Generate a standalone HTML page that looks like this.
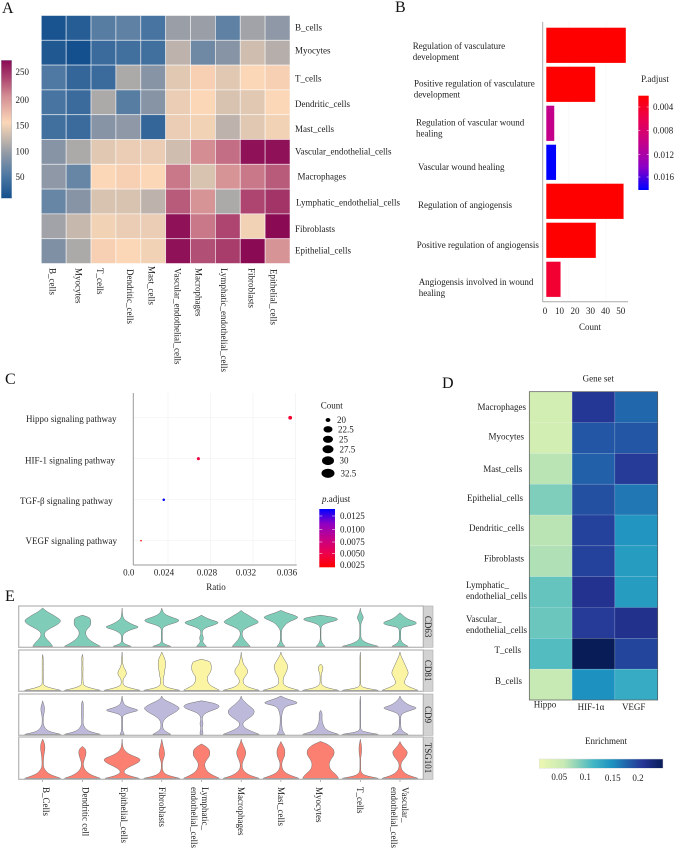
<!DOCTYPE html>
<html lang="en">
<head>
<meta charset="utf-8">
<title>Cell interaction and enrichment figure</title>
<style>
html,body{margin:0;padding:0;background:#fff;width:674px;height:851px;overflow:hidden}
svg{display:block}
text{font-family:"Liberation Serif",serif;font-size:9px;fill:#222;dominant-baseline:central}
.m{text-anchor:middle}
.e{text-anchor:end}
.letter{font-size:16px;dominant-baseline:auto;fill:#111}
</style>
</head>
<body>
<svg id="fig" xmlns="http://www.w3.org/2000/svg" width="674" height="851" viewBox="0 0 674 851">
<defs>
<linearGradient id="gradA" x1="0" y1="0" x2="0" y2="1">
<stop offset="0" stop-color="#8a0a54"/><stop offset=".13" stop-color="#ad4570"/><stop offset=".26" stop-color="#d38d93"/><stop offset=".45" stop-color="#fbd7b7"/><stop offset=".6" stop-color="#b5aeaa"/><stop offset=".68" stop-color="#8f98a6"/><stop offset=".83" stop-color="#4f79a3"/><stop offset="1" stop-color="#14508e"/>
</linearGradient>
<linearGradient id="gradB" x1="0" y1="0" x2="0" y2="1"><stop offset="0" stop-color="#ff0000"/><stop offset=".25" stop-color="#eb0050"/><stop offset=".5" stop-color="#c4008a"/><stop offset=".75" stop-color="#8e00c4"/><stop offset="1" stop-color="#0000ff"/></linearGradient>
<linearGradient id="gradC" x1="0" y1="0" x2="0" y2="1"><stop offset="0" stop-color="#0000ff"/><stop offset=".25" stop-color="#8e00c4"/><stop offset=".5" stop-color="#c4008a"/><stop offset=".75" stop-color="#eb0050"/><stop offset="1" stop-color="#ff0000"/></linearGradient>
<linearGradient id="gradD" x1="0" y1="0" x2="1" y2="0">
<stop offset="0" stop-color="#edf8b1"/><stop offset=".2" stop-color="#c7e9b4"/><stop offset=".33" stop-color="#7fcdbb"/><stop offset=".44" stop-color="#41b6c4"/><stop offset=".59" stop-color="#1d91c0"/><stop offset=".72" stop-color="#225ea8"/><stop offset=".84" stop-color="#253494"/><stop offset="1" stop-color="#081d58"/>
</linearGradient>
</defs>

<text class="letter" x="2" y="13">A</text>
<text class="letter" x="395" y="12">B</text>
<text class="letter" x="5" y="384">C</text>
<text class="letter" x="442" y="388">D</text>
<text class="letter" x="5" y="601">E</text>

<g id="panelA">
<rect x="1.3" y="60.3" width="10.4" height="138" fill="url(#gradA)" stroke="#9fb4c8" stroke-width=".4"/>
<text x="15.5" y="72">250</text>
<text x="15.5" y="100">200</text>
<text x="15.5" y="125.5">150</text>
<text x="15.5" y="151.5">100</text>
<text x="15.5" y="177">50</text>
<text x="295" y="27.5">B_cells</text>
<text x="295" y="50.5">Myocytes</text>
<text x="295" y="78.5">T_cells</text>
<text x="295" y="104">Dendritic_cells</text>
<text x="295" y="129">Mast_cells</text>
<text x="295" y="151.5">Vascular_endothelial_cells</text>
<text x="297.5" y="176.5">Macrophages</text>
<text x="296" y="202.5">Lymphatic_endothelial_cells</text>
<text x="295" y="229">Fibroblasts</text>
<text x="295" y="250.5">Epithelial_cells</text>
<text transform="translate(52.3,268) rotate(90)">B_cells</text>
<text transform="translate(78.3,268) rotate(90)">Myocytes</text>
<text transform="translate(100,268) rotate(90)">T_cells</text>
<text transform="translate(130,269) rotate(90)">Dendritic_cells</text>
<text transform="translate(151.7,266) rotate(90)">Mast_cells</text>
<text transform="translate(177.7,268) rotate(90)">Vascular_endothelial_cells</text>
<text transform="translate(198.3,268) rotate(90)">Macrophages</text>
<text transform="translate(224,268) rotate(90)">Lymphatic_endothelial_cells</text>
<text transform="translate(251.7,268) rotate(90)">Fibroblasts</text>
<text transform="translate(273.3,269) rotate(90)">Epithelial_cells</text>
</g>

<g id="panelB">
<line x1="569" y1="22" x2="569" y2="302" stroke="#f3f3f3" stroke-width=".6"/>
<line x1="606" y1="22" x2="606" y2="302" stroke="#f3f3f3" stroke-width=".6"/>
<line x1="542.7" y1="22" x2="542.7" y2="302" stroke="#aaa" stroke-width="1"/>
<line x1="542.7" y1="301.7" x2="628" y2="301.7" stroke="#aaa" stroke-width="1"/>
<text x="412.7" y="46">Regulation of vasculature</text>
<text x="412.7" y="57">development</text>
<text x="414" y="83.5">Positive regulation of vasculature</text>
<text x="413.7" y="94.5">development</text>
<text x="416" y="122.5">Regulation of vascular wound</text>
<text x="416" y="133.5">healing</text>
<text x="418" y="167">Vascular wound healing</text>
<text x="418" y="205">Regulation of angiogensis</text>
<text x="416.7" y="245">Positive regulation of angiogensis</text>
<text x="418.7" y="282">Angiogensis involved in wound</text>
<text x="418.7" y="293">healing</text>
<text class="m" x="545" y="311">0</text>
<text class="m" x="559.5" y="311">10</text>
<text class="m" x="575" y="311">20</text>
<text class="m" x="590.5" y="311">30</text>
<text class="m" x="605.5" y="311">40</text>
<text class="m" x="620.7" y="311">50</text>
<text class="m" x="590" y="327">Count</text>
<text class="m" x="655" y="79">P.adjust</text>
<rect x="638.3" y="95.7" width="10.4" height="94.3" fill="url(#gradB)"/>
<path d="M638.3 107h2M646.7 107h2M638.3 130.5h2M646.7 130.5h2M638.3 154.500h2M646.7 154.500h2M638.3 177h2M646.7 177h2" stroke="#fff" stroke-width=".6" fill="none"/>
<text x="653" y="107">0.004</text>
<text x="653" y="130.5">0.008</text>
<text x="653.7" y="155">0.012</text>
<text x="653.7" y="177">0.016</text>
</g>

<g id="panelC">
<line x1="168" y1="393" x2="168" y2="565" stroke="#efefef" stroke-width=".6"/>
<line x1="210.5" y1="393" x2="210.5" y2="565" stroke="#efefef" stroke-width=".6"/>
<line x1="253" y1="393" x2="253" y2="565" stroke="#efefef" stroke-width=".6"/>
<line x1="295.5" y1="393" x2="295.5" y2="565" stroke="#efefef" stroke-width=".6"/>
<line x1="133.3" y1="417.7" x2="296.7" y2="417.7" stroke="#f2f2f2" stroke-width=".6"/>
<line x1="133.3" y1="458.7" x2="296.7" y2="458.7" stroke="#f2f2f2" stroke-width=".6"/>
<line x1="133.3" y1="499.3" x2="296.7" y2="499.3" stroke="#f2f2f2" stroke-width=".6"/>
<line x1="133.3" y1="540.7" x2="296.7" y2="540.7" stroke="#f2f2f2" stroke-width=".6"/>
<line x1="133.3" y1="393" x2="133.3" y2="565" stroke="#999" stroke-width="1"/>
<line x1="133.3" y1="565" x2="296.7" y2="565" stroke="#999" stroke-width="1"/>
<text x="26" y="419">Hippo signaling pathway</text>
<text x="25" y="460.5">HIF-1 signaling pathway</text>
<text x="20" y="501">TGF-β signaling pathway</text>
<text x="25.5" y="541">VEGF signaling pathway</text>
<text class="m" x="128.7" y="572.7">0.0</text>
<text class="m" x="164" y="572.7">0.024</text>
<text class="m" x="207" y="572.7">0.028</text>
<text class="m" x="246" y="572.7">0.032</text>
<text class="m" x="287" y="572.7">0.036</text>
<text class="m" x="216" y="587">Ratio</text>
<text x="320.7" y="405.7">Count</text>
<ellipse cx="328" cy="420" rx="2.4" ry="2" fill="#000"/>
<ellipse cx="328" cy="429.3" rx="4.5" ry="3.2" fill="#000"/>
<ellipse cx="328" cy="439.3" rx="5" ry="3.6" fill="#000"/>
<ellipse cx="328" cy="449.3" rx="5.5" ry="4" fill="#000"/>
<ellipse cx="328" cy="460.7" rx="6" ry="4.4" fill="#000"/>
<ellipse cx="328" cy="473.3" rx="6.5" ry="4.6" fill="#000"/>
<text x="337" y="420">20</text>
<text x="338" y="429.3">22.5</text>
<text x="339" y="439.3">25</text>
<text x="339.5" y="449.3">27.5</text>
<text x="339.5" y="460.7">30</text>
<text x="340.5" y="473.3">32.5</text>
<text x="322" y="499"><tspan font-style="italic">p</tspan>.adjust</text>
<rect x="319.3" y="509" width="15.7" height="58.3" fill="url(#gradC)"/>
<path d="M319.3 516h3M332 516h3M319.3 529.500h3M332 529.500h3M319.3 542h3M332 542h3M319.3 553.500h3M332 553.500h3" stroke="#fff" stroke-width=".6" fill="none"/>
<text x="340" y="516">0.0125</text>
<text x="340" y="529.5">0.0100</text>
<text x="340" y="542">0.0075</text>
<text x="340" y="553.5">0.0050</text>
<text x="340" y="565">0.0025</text>
</g>

<g id="panelD">
<text class="m" x="598.3" y="378.5">Gene set</text>
<text class="e" x="526" y="407">Macrophages</text>
<text class="e" x="524" y="436.7">Myocytes</text>
<text class="e" x="522.3" y="469">Mast_cells</text>
<text class="e" x="523" y="498">Epithelial_cells</text>
<text class="e" x="524" y="528">Dendritic_cells</text>
<text class="e" x="524" y="558.5">Fibroblasts</text>
<text x="466" y="585">Lymphatic_</text>
<text x="466" y="596">endothelial_cells</text>
<text x="466" y="619">Vascular_</text>
<text x="466" y="630">endothelial_cells</text>
<text class="e" x="521" y="650">T_cells</text>
<text class="e" x="522" y="681">B_cells</text>
<text class="m" x="545" y="704.7">Hippo</text>
<text class="m" x="591" y="707">HIF-1α</text>
<text class="m" x="633.7" y="707">VEGF</text>
<text class="m" x="606" y="741">Enrichment</text>
<rect x="539.3" y="759" width="123.7" height="9.3" fill="url(#gradD)" stroke="#ddd" stroke-width=".5"/>
<text class="m" x="559.3" y="777">0.05</text>
<text class="m" x="585.3" y="777">0.1</text>
<text class="m" x="612.7" y="778">0.15</text>
<text class="m" x="638" y="778">0.2</text>
</g>

<g id="panelE">
<rect x="423.3" y="606" width="9.7" height="41.3" fill="#d2d2d2" stroke="#aaa" stroke-width=".6"/>
<rect x="423.3" y="650" width="9.7" height="41.3" fill="#d2d2d2" stroke="#aaa" stroke-width=".6"/>
<rect x="423.3" y="694" width="9.7" height="41.3" fill="#d2d2d2" stroke="#aaa" stroke-width=".6"/>
<rect x="423.3" y="737" width="9.7" height="42.3" fill="#d2d2d2" stroke="#aaa" stroke-width=".6"/>
<text class="m" transform="translate(428.2,626.6) rotate(90)">CD63</text>
<text class="m" transform="translate(428.2,670.6) rotate(90)">CD81</text>
<text class="m" transform="translate(428.2,714.6) rotate(90)">CD9</text>
<text class="m" transform="translate(428.2,758) rotate(90)">TSG101</text>
<text transform="translate(46,787) rotate(90)">B_Cells</text>
<text transform="translate(85.5,787) rotate(90)">Dendritic cell</text>
<text transform="translate(124,787) rotate(90)">Epithelial_cells</text>
<text transform="translate(162,787) rotate(90)">Fibroblasts</text>
<text transform="translate(205,787) rotate(90)">Lymphatic_</text>
<text transform="translate(194,787) rotate(90)">endothelial_cells</text>
<text transform="translate(241,787) rotate(90)">Macrophages</text>
<text transform="translate(281,787) rotate(90)">Mast_cells</text>
<text transform="translate(319,787) rotate(90)">Myocytes</text>
<text transform="translate(360,787) rotate(90)">T_cells</text>
<text transform="translate(405,787) rotate(90)">Vascular_</text>
<text transform="translate(394,787) rotate(90)">endothelial_cells</text>
</g>
</svg>

<script>
// Panel A values
const heatARows = ['B_cells','Myocytes','T_cells','Dendritic_cells','Mast_cells','Vascular_endothelial_cells','Macrophages','Lymphatic_endothelial_cells','Fibroblasts','Epithelial_cells'];
const heatAValues = [
[10,20,55,60,45,95,95,60,100,90],
[15,5,35,40,40,115,70,85,125,110],
[50,30,35,105,85,135,155,135,150,155],
[45,35,105,55,85,140,150,130,135,150],
[40,35,85,90,30,140,145,115,135,145],
[85,105,135,140,140,125,200,215,265,265],
[90,65,150,155,150,210,130,195,210,225],
[65,85,130,130,115,225,195,105,235,245],
[100,120,145,140,140,265,210,235,145,270],
[80,105,155,150,145,265,230,240,270,195]];

// Panel B values
const barTerms = ['Regulation of vasculature development','Positive regulation of vasculature development','Regulation of vascular wound healing','Vascular wound healing','Regulation of angiogensis','Positive regulation of angiogensis','Angiogensis involved in wound healing'];
const barCounts = [53,32.6,5.3,6.5,51.5,33,9.5];
const barPadjust = [0.002,0.002,0.0105,0.018,0.002,0.002,0.0045];

// Panel C values
const dotPathways = ['Hippo','HIF-1','TGF-beta','VEGF'];
const dotRatio = [0.0355,0.02686,0.0236,0.02146];
const dotCount = [32,28,25,20];
const dotPadjust = [0.0042,0.0048,0.0135,0.0025];

// Panel D values
const heatDRows = ['Macrophages','Myocytes','Mast_cells','Epithelial_cells','Dendritic_cells','Fibroblasts','Lymphatic_endothelial_cells','Vascular_endothelial_cells','T_cells','B_cells'];
const heatDCols = ['Hippo','HIF-1a','VEGF'];
const heatDHippo = [0.045,0.045,0.065,0.09,0.065,0.07,0.1,0.098,0.108,0.06];
const heatDHif = [0.208,0.185,0.178,0.19,0.2,0.2,0.213,0.205,0.247,0.15];
const heatDVegf = [0.175,0.185,0.205,0.165,0.145,0.14,0.14,0.215,0.198,0.125];

// Panel E density profiles (bottom to top, percent of the widest violin)
const violinCells = ['B_Cells','Dendritic','Epithelial','Fibroblasts','Lymphatic','Macrophages','Mast','Myocytes','T_cells','Vascular'];
const violinCD63 = [
[55,47,35,22,12,9,13,30,55,80,97,100,80,60,35,15,0],
[100,75,52,35,24,18,18,24,38,46,46,46,40,0,0,0,0],
[50,12,3,3,3,6,22,50,100,60,35,15,6,3,2,1,0],
[50,10,3,3,3,3,3,3,8,35,85,100,60,25,10,3,0],
[28,14,6,10,10,4,4,8,30,75,100,55,22,0,0,0,0],
[50,38,26,15,8,5,6,14,38,70,100,85,60,40,15,0,0],
[22,10,5,3,3,3,3,5,14,25,40,70,100,75,30,0,0],
[25,12,5,2,2,2,2,2,3,12,45,100,85,0,0,0,0],
[100,50,20,7,3,3,3,3,3,3,6,12,18,12,6,2,0],
[45,20,8,4,4,4,4,5,12,85,95,55,30,15,0,0,0]];
const violinCD81 = [
[100,40,6,3,3,3,3,3,3,3,3,3,3,3,2,0,0],
[100,40,8,4,4,3,3,3,3,4,3,3,3,4,3,0,0],
[100,40,8,5,5,8,20,24,22,14,8,4,3,3,2,1,0],
[100,35,10,8,8,8,12,14,15,18,20,20,20,17,12,5,0],
[100,75,50,38,34,32,35,45,52,55,55,52,48,0,0,0,0],
[100,50,22,12,10,14,24,34,36,32,22,12,9,6,3,1,0],
[100,50,20,12,12,14,18,26,32,36,38,34,26,18,10,3,0],
[100,35,10,3,3,3,3,5,10,13,13,0,0,0,0,0,0],
[100,18,3,2,2,2,2,2,2,2,2,2,2,2,2,1,0],
[100,65,35,24,26,32,40,46,44,38,32,26,20,14,8,3,0]];
const violinCD9 = [
[100,40,20,10,4,3,3,3,5,8,10,10,8,3,0,0,0],
[100,45,22,12,5,4,4,5,5,5,5,5,5,5,0,0,0],
[12,5,3,3,3,3,3,3,6,40,100,50,18,8,4,2,0],
[50,25,10,5,5,6,12,25,45,70,90,100,80,55,25,5,0],
[8,8,5,4,8,8,4,5,10,25,60,95,100,70,0,0,0],
[100,65,35,15,8,12,28,48,65,72,72,60,42,28,14,3,0],
[22,12,8,6,5,4,4,4,5,8,12,18,38,100,70,25,0],
[100,55,30,20,15,10,8,8,8,8,0,0,0,0,0,0,0],
[100,18,3,2,2,2,2,2,2,2,2,2,2,2,2,1,0],
[45,20,8,5,4,4,4,4,6,20,60,100,55,32,18,5,0]];
const violinTSG101 = [
[100,60,30,18,8,4,4,4,5,6,8,10,12,12,10,6,0],
[100,60,35,20,10,6,5,8,12,17,20,20,16,0,0,0,0],
[95,40,12,10,25,50,80,100,100,65,35,18,8,4,2,1,0],
[100,40,15,6,3,3,3,5,10,14,16,14,12,8,5,2,0],
[100,70,45,30,22,18,18,24,34,44,46,46,40,24,0,0,0],
[100,55,30,15,7,5,6,10,16,22,25,25,20,14,8,2,0],
[100,60,30,15,8,5,5,8,14,20,22,22,20,14,6,0,0],
[100,92,78,62,52,48,48,52,60,70,75,75,70,55,35,0,0],
[100,30,8,3,2,2,2,2,2,4,6,7,7,7,5,2,0],
[100,55,28,15,7,5,6,12,24,34,40,40,28,16,6,0,0]];

const SVGNS = 'http://www.w3.org/2000/svg';
function mk(tag, parent, attrs){
  const el = document.createElementNS(SVGNS, tag);
  for (const k in attrs) el.setAttribute(k, attrs[k]);
  parent.appendChild(el);
  return el;
}
function hexRgb(h){return [1,3,5].map(i=>parseInt(h.substr(i,2),16));}
function ramp(stopsV, stopsC, v){
  if (v<=stopsV[0]) return stopsC[0];
  for (let i=1;i<stopsV.length;i++){
    if (v<=stopsV[i]){
      const t=(v-stopsV[i-1])/(stopsV[i]-stopsV[i-1]);
      const a=hexRgb(stopsC[i-1]), b=hexRgb(stopsC[i]);
      return 'rgb('+a.map((c,j)=>Math.round(c+(b[j]-c)*t)).join(',')+')';
    }
  }
  return stopsC[stopsC.length-1];
}
const rampAV=[6,50,90,110,150,200,235,270];
const rampAC=['#14508e','#4f79a3','#8f98a6','#b5aeaa','#fbd7b7','#d38d93','#ad4570','#8a0a54'];
const rampDV=[0.012,0.06,0.09,0.115,0.15,0.18,0.21,0.247];
const rampDC=['#edf8b1','#c7e9b4','#7fcdbb','#41b6c4','#1d91c0','#225ea8','#253494','#081d58'];
const rampPC=['#ff0000','#eb0050','#c4008a','#8e00c4','#0000ff'];
const rampBV=[0.002,0.006,0.0105,0.0145,0.018];
const rampCV=[0.0025,0.0053,0.008,0.0108,0.0135];

// Panel A axes and cells
const gA=document.getElementById('panelA');
const xA=i=>41.3+i*24.87, yA=i=>15.5+i*24.8;
heatAValues.forEach((row,r)=>row.forEach((v,c)=>{
  const cell=mk('rect',gA,{x:xA(c),y:yA(r),width:24.87,height:24.8,fill:ramp(rampAV,rampAC,v),stroke:'#fff','stroke-opacity':.65,'stroke-width':.8});
  
  
}));

// Panel B axes and bars
const gB=document.getElementById('panelB');
const xB=v=>546.3+v*1.5, yB=i=>27.7+i*39;
barCounts.forEach((v,i)=>{
  const bar=mk('rect',gB,{x:xB(0),y:yB(i),width:xB(v)-xB(0),height:35.2,fill:ramp(rampBV,rampPC,barPadjust[i])});
  
  
});

// Panel C axes and dots
const gC=document.getElementById('panelC');
const xC=v=>168+(v-0.024)*42.5/0.004, yC=i=>417.7+i*41;
const rC=c=>0.8+(c-20)*0.09;
dotRatio.forEach((v,i)=>{
  const dot=mk('circle',gC,{cx:xC(v),cy:yC(i),r:rC(dotCount[i]),fill:ramp(rampCV,rampPC,dotPadjust[i])});
  
  
});

// Panel D axes and cells
const gD=document.getElementById('panelD');
const xD=i=>529.3+i*42.8, yD=i=>391.7+i*30.83;
[heatDHippo,heatDHif,heatDVegf].forEach((col,c)=>col.forEach((v,r)=>{
  const cell=mk('rect',gD,{x:xD(c),y:yD(r),width:42.8,height:30.83,fill:ramp(rampDV,rampDC,v),stroke:'#fff','stroke-opacity':.25,'stroke-width':.5});
  
  
}));
const frame=mk('rect',gD,{x:529.3,y:391.7,width:128.4,height:308.3,fill:'none',stroke:'#555','stroke-width':.7});



// Panel E axes and violins
const gE=document.getElementById('panelE');
const xE=i=>42.7+i*39.7;
const genes=[
 {d:violinCD63,top:606,h:41.3,c:'#7fcdb9',n:'cd63'},
 {d:violinCD81,top:650,h:41.3,c:'#fbf5a3',n:'cd81'},
 {d:violinCD9,top:694,h:41.3,c:'#bdb9da',n:'cd9'},
 {d:violinTSG101,top:737,h:42.3,c:'#fb8072',n:'tsg101'}];
function smoothSide(pts){
  let s='';
  for(let i=1;i<pts.length-1;i++){
    const mx=(pts[i][0]+pts[i+1][0])/2, my=(pts[i][1]+pts[i+1][1])/2;
    s+='Q'+pts[i][0].toFixed(2)+' '+pts[i][1].toFixed(2)+' '+mx.toFixed(2)+' '+my.toFixed(2);
  }
  const last=pts[pts.length-1];
  return s+'L'+last[0].toFixed(2)+' '+last[1].toFixed(2);
}
genes.forEach(g=>{
  const box=mk('rect',gE,{x:18.7,y:g.top,width:404.6,height:g.h,fill:'none',stroke:'#b4b4b4','stroke-width':1.2});
  
  
  const yV=t=>g.top+g.h-1-t*(g.h-3);
  g.d.forEach((prof,i)=>{
    const n=prof.length-1, cx=xE(i);
    const yTop=Math.min(n,prof.map((w,k)=>[w,k]).filter(p=>p[0]>0).pop()[1]+1);
    const right=[], left=[];
    for(let k=0;k<=yTop;k++){
      const hw=prof[k]/100*18;
      right.push([cx+hw,yV(k/n)]);
      left.unshift([cx-hw,yV(k/n)]);
    }
    const d='M'+right[0][0].toFixed(2)+' '+right[0][1].toFixed(2)+smoothSide(right)+smoothSide(left)+'Z';
    const p=mk('path',gE,{d:d,fill:g.c,stroke:'#6e6e6e','stroke-width':.5,'stroke-linejoin':'round'});
    
    
  });
});
violinCells.forEach((c,i)=>{
  const t=mk('line',gE,{x1:xE(i),x2:xE(i),y1:780,y2:782,stroke:'#888','stroke-width':.6});
  
  
});
</script>
</body>
</html>
